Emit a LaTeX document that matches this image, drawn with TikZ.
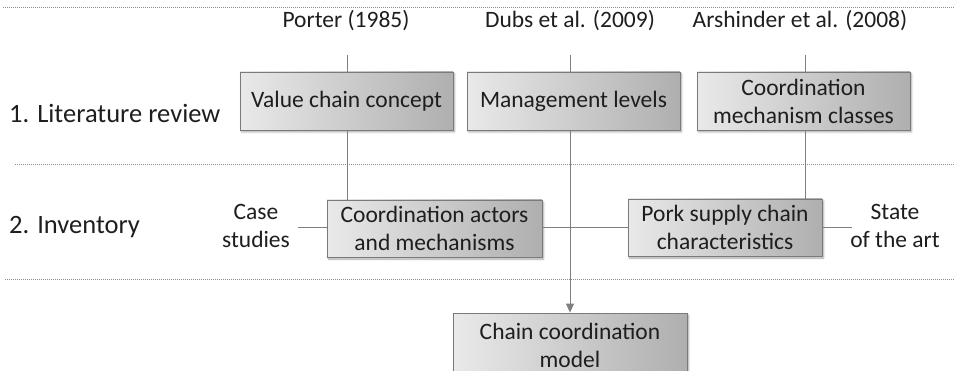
\documentclass[tikz,border=0pt]{standalone}
\usepackage{fontspec}
\setmainfont{Carlito}
\usetikzlibrary{shadows.blur,arrows.meta}
\definecolor{boxlight}{HTML}{E9E9E9}
\definecolor{boxdark}{HTML}{AFAFAF}
\definecolor{boxline}{HTML}{7A7A7A}
\definecolor{wire}{HTML}{7F7F7F}
\definecolor{ink}{HTML}{1E1E1E}
\definecolor{dots}{HTML}{8C8C8C}
\begin{document}
\begin{tikzpicture}[x=1pt,y=-1pt,
  font=\fontsize{23.5}{28}\selectfont, text=ink,
  stagebox/.style={draw=boxline, line width=0.8pt, left color=boxlight, right color=boxdark,
    align=center, inner sep=0pt,
    blur shadow={shadow blur steps=6, shadow xshift=1.5pt, shadow yshift=-2pt, shadow opacity=35}},
  wireline/.style={draw=wire, line width=0.9pt},
  sepline/.style={draw=dots, line width=1pt, dash pattern=on 0.9pt off 1.1pt},
  plain/.style={align=center, inner sep=0pt},
  phase/.style={inner sep=0pt, anchor=west, font=\fontsize{26.5}{30}\selectfont}]
\useasboundingbox (0,0) rectangle (955,371);
\clip (0,0) rectangle (955,371);

% phase separators
\draw[sepline] (3,8) -- (955,8);
\draw[sepline] (15,165) -- (955,165);
\draw[sepline] (5,279) -- (955,279);

% phase labels
\node[phase] (lit) at (9,113) {1. Literature review};
\node[phase] (inv) at (9,227) {2. Inventory};

% sources
\node[plain] (porter) at (346,21) {Porter (1985)};
\node[plain] (dubs) at (570,21) {Dubs et al. (2009)};
\node[plain] (arsh) at (800,21) {Arshinder et al. (2008)};
\node[plain] (cases) at (256,226) {Case\\studies};
\node[plain] (sota) at (895,226) {State\\of the art};

% stage boxes
\node[stagebox, minimum width=213, minimum height=58] (vcc) at (346.5,101) {Value chain concept};
\node[stagebox, minimum width=213, minimum height=58] (mgmt) at (573.5,101) {Management levels};
\node[stagebox, minimum width=213, minimum height=58] (cmc) at (803.5,101) {Coordination\\mechanism classes};
\node[stagebox, minimum width=215, minimum height=57] (cam) at (434.5,228.5) {Coordination actors\\and mechanisms};
\node[stagebox, minimum width=194, minimum height=57] (pork) at (725,227.5) {Pork supply chain\\characteristics};
\node[stagebox, minimum width=234, minimum height=64] (ccm) at (570,345) {Chain coordination\\model};

% connector stubs under the source labels
\coordinate (porterend) at (347,55);
\coordinate (dubsend) at (570,55);
\coordinate (arshend) at (805,55);
\coordinate (casesend) at (298,227);
\coordinate (sotaend) at (852,227);

\draw[wireline] (porterend) -- (porterend |- vcc.north);
\draw[wireline] (dubsend) -- (dubsend |- mgmt.north);
\draw[wireline] (arshend) -- (arshend |- cmc.north);
\draw[wireline] (porterend |- vcc.south) -- (porterend |- cam.north);
\draw[wireline] (arshend |- cmc.south) -- (arshend |- pork.north);
\draw[wireline] (casesend) -- (casesend -| cam.west);
\draw[wireline] (sotaend) -- (sotaend -| pork.east);
\draw[wireline] (cam.east |- casesend) -- (pork.west |- casesend);
\draw[wireline, -{Triangle[length=9pt,width=8pt]}] (ccm.north |- mgmt.south) -- (ccm.north);
\end{tikzpicture}
\end{document}
